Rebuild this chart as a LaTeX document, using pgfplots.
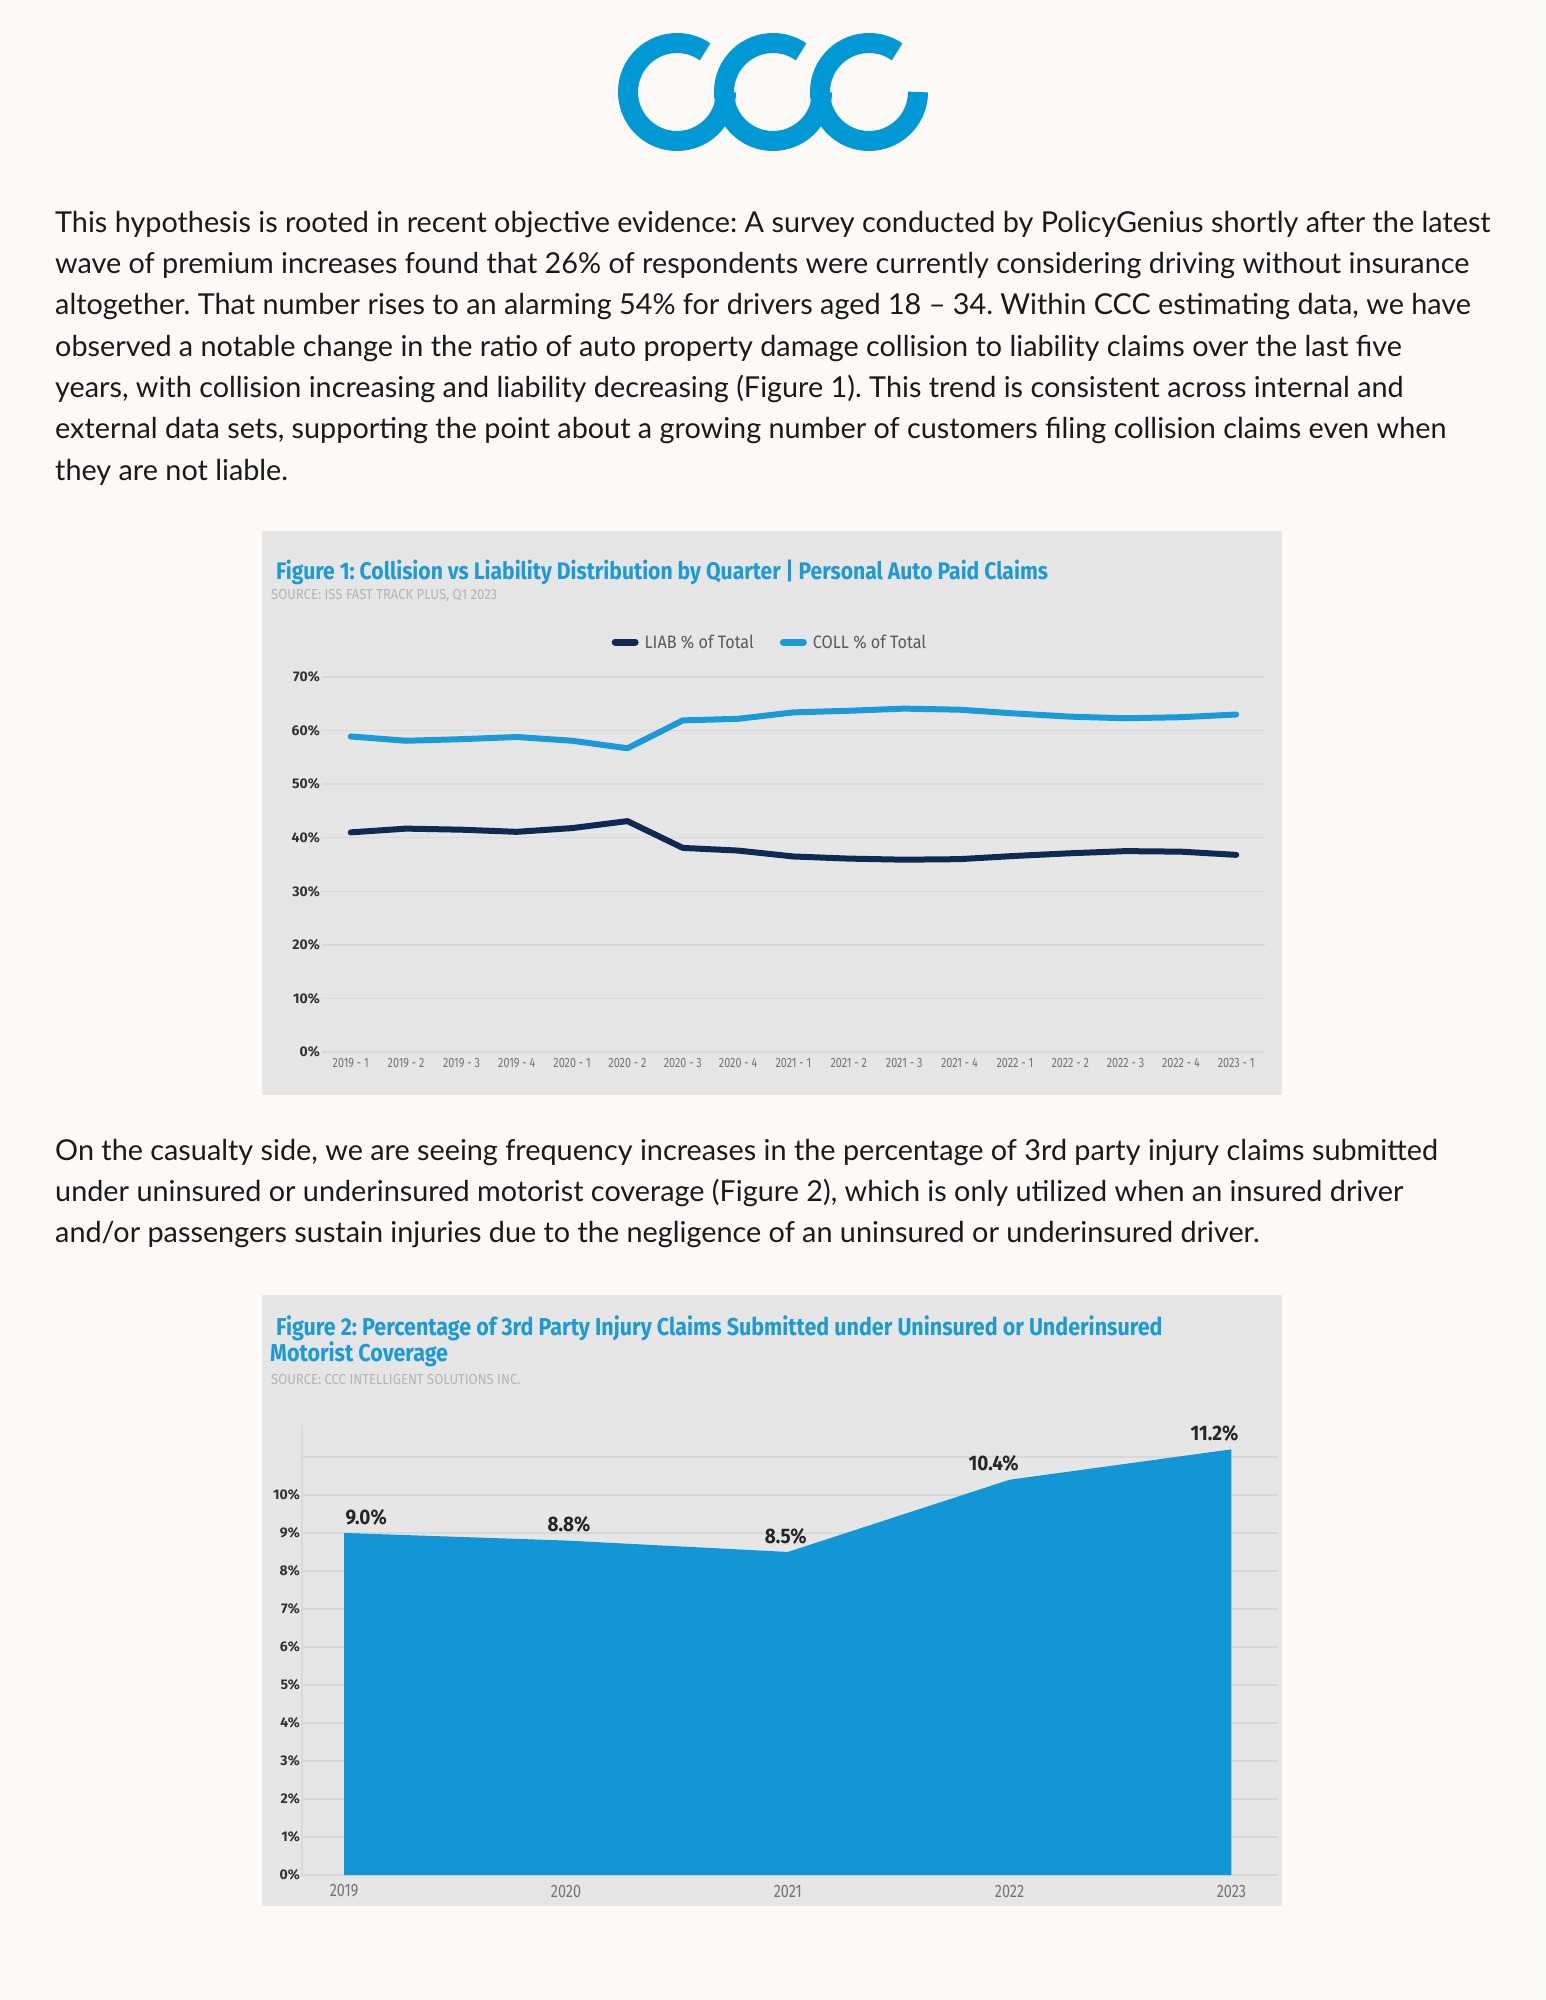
\documentclass[border=0pt]{standalone}
\usepackage{pgfplots}
\pgfplotsset{compat=1.18}
\usepackage{pgfplotstable}
\usepackage{fontspec}
\setmainfont{Lato}
\newfontfamily\cond[FakeStretch=0.8]{Fira Sans}
\newfontfamily\condb[FakeStretch=0.88]{Fira Sans}
\newfontfamily\condc[FakeStretch=0.9]{Fira Sans}
\newfontfamily\plain{Fira Sans}
\frenchspacing

\definecolor{pagebg}{HTML}{FDF9F6}
\definecolor{panel}{HTML}{E6E6E6}
\definecolor{gridc}{HTML}{D9D9D9}
\definecolor{logo}{HTML}{0099D5}
\definecolor{titleblue}{HTML}{1C9AD6}
\definecolor{srcgrey}{HTML}{B3B3B3}
\definecolor{tickgrey}{HTML}{727272}
\definecolor{coll}{HTML}{1A9AD9}
\definecolor{liab}{HTML}{0E2A52}
\definecolor{areablue}{HTML}{1396D6}
\definecolor{bodytext}{HTML}{1A1A1A}

\newcommand\bodyfont{\fontsize{28.8}{34}\selectfont\color{bodytext}}

\pgfplotstableread{
x y
0 41.0
1 41.7
2 41.5
3 41.1
4 41.8
5 43.1
6 38.1
7 37.6
8 36.5
9 36.1
10 35.9
11 36.0
12 36.6
13 37.1
14 37.5
15 37.4
16 36.8
}\liabdata

\pgfplotstableread{
x y
0 58.9
1 58.1
2 58.4
3 58.8
4 58.1
5 56.7
6 61.9
7 62.2
8 63.4
9 63.7
10 64.1
11 63.9
12 63.2
13 62.6
14 62.3
15 62.5
16 63.0
}\colldata

% dx: horizontal offset of each value label
\pgfplotstableread{
x y dx
0 9.0 22
1 8.8 3
2 8.5 -2
3 10.4 -16
4 11.2 -17
}\uimdata

\begin{document}
\begin{tikzpicture}
\fill[pagebg] (0pt,0pt) rectangle (1545pt,-2000pt);

% logo
\foreach \cx in {677,773,869}{
  \draw[logo, line width=20pt] (\cx pt,-92pt) ++(55:49pt) arc[start angle=55, end angle=360, radius=49pt];
}

% paragraph 1
\node[anchor=base west, inner sep=0pt, font=\bodyfont] at (55pt,-232pt) {This hypothesis is rooted in recent objective evidence: A survey conducted by PolicyGenius shortly after the latest};
\node[anchor=base west, inner sep=0pt, font=\bodyfont] at (55pt,-273.3pt) {wave of premium increases found that 26\% of respondents were currently considering driving without insurance};
\node[anchor=base west, inner sep=0pt, font=\bodyfont] at (55pt,-314.7pt) {altogether. That number rises to an alarming 54\% for drivers aged 18 – 34. Within CCC estimating data, we have};
\node[anchor=base west, inner sep=0pt, font=\bodyfont] at (55pt,-356pt) {observed a notable change in the ratio of auto property damage collision to liability claims over the last five};
\node[anchor=base west, inner sep=0pt, font=\bodyfont] at (55pt,-397.3pt) {years, with collision increasing and liability decreasing (Figure 1). This trend is consistent across internal and};
\node[anchor=base west, inner sep=0pt, font=\bodyfont] at (55pt,-438.7pt) {external data sets, supporting the point about a growing number of customers filing collision claims even when};
\node[anchor=base west, inner sep=0pt, font=\bodyfont] at (55pt,-480pt) {they are not liable.};

% paragraph 2
\node[anchor=base west, inner sep=0pt, font=\bodyfont] at (55pt,-1160pt) {On the casualty side, we are seeing frequency increases in the percentage of 3rd party injury claims submitted};
\node[anchor=base west, inner sep=0pt, font=\bodyfont] at (55pt,-1201.3pt) {under uninsured or underinsured motorist coverage (Figure 2), which is only utilized when an insured driver};
\node[anchor=base west, inner sep=0pt, font=\bodyfont] at (55pt,-1242.7pt) {and/or passengers sustain injuries due to the negligence of an uninsured or underinsured driver.};

% panels
\fill[panel] (262pt,-531pt) rectangle (1282pt,-1095pt);
\fill[panel] (262pt,-1295pt) rectangle (1282pt,-1906pt);

% figure 1 header
\node[anchor=west, inner sep=0pt, text=titleblue, font=\condb\bfseries\fontsize{24}{28}\selectfont] at (276pt,-572pt) {Figure 1: Collision vs Liability Distribution by Quarter | Personal Auto Paid Claims};
\node[anchor=west, inner sep=0pt, text=srcgrey, font=\condc\fontsize{14.5}{17}\selectfont] at (271pt,-596pt) {SOURCE: ISS FAST TRACK PLUS, Q1 2023};

\begin{axis}[
  at={(322pt,-1052pt)}, anchor=south west,
  scale only axis, width=943pt, height=375pt,
  xmin=-0.52, xmax=16.52, ymin=0, ymax=70,
  axis line style={draw=none}, major tick length=0pt,
  clip=false,
  xtick={0,...,16},
  xticklabels={2019 - 1,2019 - 2,2019 - 3,2019 - 4,2020 - 1,2020 - 2,2020 - 3,2020 - 4,2021 - 1,2021 - 2,2021 - 3,2021 - 4,2022 - 1,2022 - 2,2022 - 3,2022 - 4,2023 - 1},
  xticklabel style={anchor=center, yshift=-11pt, text=tickgrey, font=\cond\fontsize{13.5}{15}\selectfont},
  ytick={0,10,...,70},
  yticklabels={0\%,10\%,20\%,30\%,40\%,50\%,60\%,70\%},
  yticklabel style={anchor=east, inner sep=2pt, text=black!80, font=\plain\bfseries\fontsize{14}{16}\selectfont},
  ymajorgrids, grid style={gridc, line width=1.5pt},
  legend columns=2,
  legend style={at={(0.475,1.093)}, anchor=center, draw=none, fill=none,
    text=black!65, font=\condc\fontsize{18}{20}\selectfont,
    /tikz/every odd column/.append style={column sep=4pt},
    /tikz/every even column/.append style={column sep=24pt}},
  legend image code/.code={\draw[#1, line width=7pt, line cap=round] (0pt,0pt) -- (20pt,0pt);},
]
\addplot[liab, line width=6pt, line join=round, line cap=round] table[x=x,y=y]{\liabdata};
\addlegendentry{LIAB \% of Total}
\addplot[coll, line width=6pt, line join=round, line cap=round] table[x=x,y=y]{\colldata};
\addlegendentry{COLL \% of Total}
\end{axis}

% figure 2 header
\node[anchor=west, inner sep=0pt, text=titleblue, font=\condb\bfseries\fontsize{24.4}{28}\selectfont] at (276pt,-1328pt) {Figure 2: Percentage of 3rd Party Injury Claims Submitted under Uninsured or Underinsured};
\node[anchor=west, inner sep=0pt, text=titleblue, font=\condb\bfseries\fontsize{24.4}{28}\selectfont] at (270pt,-1354pt) {Motorist Coverage};
\node[anchor=west, inner sep=0pt, text=srcgrey, font=\condc\fontsize{14.5}{17}\selectfont] at (271pt,-1379pt) {SOURCE: CCC INTELLIGENT SOLUTIONS INC.};

\begin{axis}[
  at={(302pt,-1875pt)}, anchor=south west,
  scale only axis, width=976pt, height=450pt,
  xmin=-0.19, xmax=4.21, ymin=0, ymax=11.84,
  axis lines*=left,
  x axis line style={draw=none},
  y axis line style={draw=gridc, line width=1.5pt},
  major tick length=0pt,
  clip=false,
  /pgf/number format/assume math mode=true,
  xtick={0,...,4},
  xticklabels={2019,2020,2021,2022,2023},
  xticklabel style={anchor=center, yshift=-16pt, text=tickgrey, font=\cond\fontsize{18}{20}\selectfont},
  ytick={0,...,11},
  yticklabels={0\%,1\%,2\%,3\%,4\%,5\%,6\%,7\%,8\%,9\%,10\%,{}},
  yticklabel style={anchor=east, inner sep=2pt, text=black!80, font=\plain\bfseries\fontsize{14}{16}\selectfont},
  ymajorgrids, grid style={gridc, line width=1.5pt},
]
\addplot[fill=areablue, draw=none,
  point meta=y,
  visualization depends on={\thisrow{dx}\as\dx},
  nodes near coords={\pgfmathprintnumber[fixed,fixed zerofill,precision=1]{\pgfplotspointmeta}\%},
  every node near coord/.append style={anchor=center, xshift=\dx pt, yshift=16pt,
    text=black!85, font=\condc\bfseries\fontsize{21}{23}\selectfont},
] table[x=x,y=y]{\uimdata} \closedcycle;
\end{axis}
\end{tikzpicture}
\end{document}
